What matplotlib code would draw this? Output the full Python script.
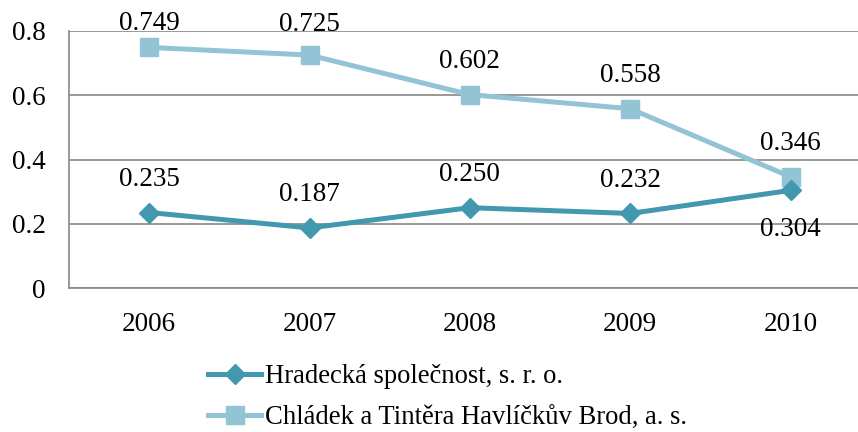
import matplotlib
matplotlib.use("Agg")
import matplotlib.pyplot as plt
from matplotlib.lines import Line2D

years = ["2006", "2007", "2008", "2009", "2010"]
hradecka = [0.235, 0.187, 0.250, 0.232, 0.304]
chladek = [0.749, 0.725, 0.602, 0.558, 0.346]
names = ["Hradecká společnost, s. r. o.", "Chládek a Tintěra Havlíčkův Brod, a. s."]
yticks = [0, 0.2, 0.4, 0.6, 0.8]
ytick_labels = ["0", "0.2", "0.4", "0.6", "0.8"]

dark = "#4198AF"
light = "#93C4D6"

plt.rcParams['font.family'] = ['Liberation Serif', 'DejaVu Serif']
fs = 19.5

fig = plt.figure(figsize=(8.58, 4.32), dpi=100)
W, H = 858, 432
ax = fig.add_axes([69 / W, 1 - 288 / H, 1 - 69 / W, (288 - 31) / H])
x = list(range(len(years)))

ax.plot(x, hradecka, color=dark, lw=3.6, marker="D", ms=10, mec=dark, mfc=dark, zorder=4)
ax.plot(x, chladek, color=light, lw=3.6, marker="s", ms=13, mec=light, mfc=light, zorder=3)

light_offsets = [12.2, 17.3, 19.4, 19.4, 19.4]
for i, v in enumerate(chladek):
    ax.annotate(f"{v:.3f}", (i, v), xytext=(0, light_offsets[i]), textcoords="offset points",
                ha="center", va="baseline", fontsize=fs, annotation_clip=False)
dark_offsets = [19.4, 19.4, 19.4, 19.4, -33]
for i, v in enumerate(hradecka):
    ax.annotate(f"{v:.3f}", (i, v), xytext=(0, dark_offsets[i]), textcoords="offset points",
                ha="center", va="baseline", fontsize=fs)

ax.set_xlim(-0.5, 4.42)
ax.set_ylim(0, 0.8)
ax.set_yticks(yticks)
ax.set_yticklabels(ytick_labels)
ax.set_xticks(x)
ax.set_xticklabels(years)
ax.tick_params(axis="both", length=0, labelsize=fs)
ax.tick_params(axis="y", pad=17)
ax.tick_params(axis="x", pad=17)
ax.yaxis.grid(True, color="#888888", lw=1.2)
ax.set_axisbelow(True)
for s in ["top", "right"]:
    ax.spines[s].set_visible(False)
ax.spines["left"].set_color("#888888")
ax.spines["left"].set_linewidth(1.2)
ax.spines["bottom"].set_color("#888888")
ax.spines["bottom"].set_linewidth(1.2)

handles = [
    Line2D([], [], color=dark, lw=3.6, marker="D", ms=10, mfc=dark, mec=dark),
    Line2D([], [], color=light, lw=3.6, marker="s", ms=13, mfc=light, mec=light),
]
fig.legend(handles, names, loc="upper left", bbox_to_anchor=(208 / W, 1 - 364 / H),
           frameon=False, fontsize=19.2, handlelength=2.0, handletextpad=0.15,
           labelspacing=0.62, borderaxespad=0, borderpad=0)

fig.savefig("out.png", dpi=100)
